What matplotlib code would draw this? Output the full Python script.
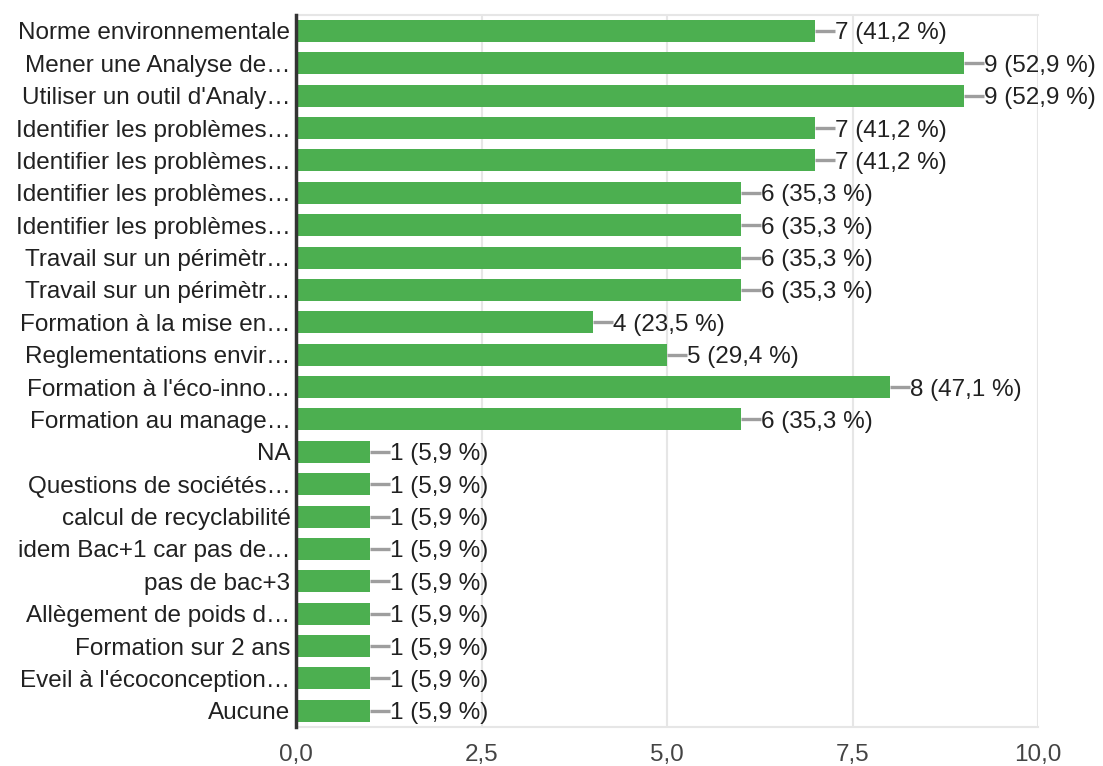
import matplotlib
matplotlib.use("Agg")
import matplotlib.pyplot as plt

categories = [
    "Norme environnementale",
    "Mener une Analyse de…",
    "Utiliser un outil d'Analy…",
    "Identifier les problèmes…",
    "Identifier les problèmes…",
    "Identifier les problèmes…",
    "Identifier les problèmes…",
    "Travail sur un périmètr…",
    "Travail sur un périmètr…",
    "Formation à la mise en…",
    "Reglementations envir…",
    "Formation à l'éco-inno…",
    "Formation au manage…",
    "NA",
    "Questions de sociétés…",
    "calcul de recyclabilité",
    "idem Bac+1 car pas de…",
    "pas de bac+3",
    "Allègement de poids d…",
    "Formation sur 2 ans",
    "Eveil à l'écoconception…",
    "Aucune",
]
counts = [7, 9, 9, 7, 7, 6, 6, 6, 6, 4, 5, 8, 6, 1, 1, 1, 1, 1, 1, 1, 1, 1]
percents = ["41,2", "52,9", "52,9", "41,2", "41,2", "35,3", "35,3", "35,3", "35,3",
            "23,5", "29,4", "47,1", "35,3", "5,9", "5,9", "5,9", "5,9", "5,9",
            "5,9", "5,9", "5,9", "5,9"]
xticks = [0, 2.5, 5, 7.5, 10]
xtick_labels = ["0,0", "2,5", "5,0", "7,5", "10,0"]

plt.rcParams['font.family'] = ['Liberation Sans', 'DejaVu Sans']
FS = 17.5

fig = plt.figure(figsize=(11.03, 7.66), dpi=100)
ax = fig.add_axes([296/1103, 1 - 727/766, (1038-296)/1103, (727-14.8)/766])

ypos = list(range(len(categories)))
ax.barh(ypos, counts, height=0.68, color="#4caf50", zorder=3)

lead = 0.27
for y, c, p in zip(ypos, counts, percents):
    ax.plot([c, c + lead], [y, y], color="#9e9e9e", lw=2.4, zorder=3, solid_capstyle="butt")
    ax.text(c + lead, y, f"{c} ({p} %)", va="center_baseline", ha="left", fontsize=FS,
            color="#212121", zorder=4)

ax.set_xlim(0, 10)
ax.set_ylim(len(categories) - 0.5, -0.5)
ax.set_yticks(ypos)
ax.set_yticklabels(categories, fontsize=FS, color="#212121", va="center_baseline")
ax.set_xticks(xticks)
ax.set_xticklabels(xtick_labels, fontsize=FS, color="#444444")
ax.tick_params(axis="both", length=0)
ax.tick_params(axis="y", pad=4)
ax.tick_params(axis="x", pad=12)

ax.grid(axis="x", color="#e6e6e6", lw=1.5, zorder=0)
for s in ["top", "right", "bottom"]:
    ax.spines[s].set_color("#e6e6e6")
    ax.spines[s].set_linewidth(1.5)
ax.spines["right"].set_visible(False)
ax.spines["left"].set_color("#333333")
ax.spines["left"].set_linewidth(2.5)
ax.spines["left"].set_zorder(5)

fig.savefig("out.png", dpi=100)
